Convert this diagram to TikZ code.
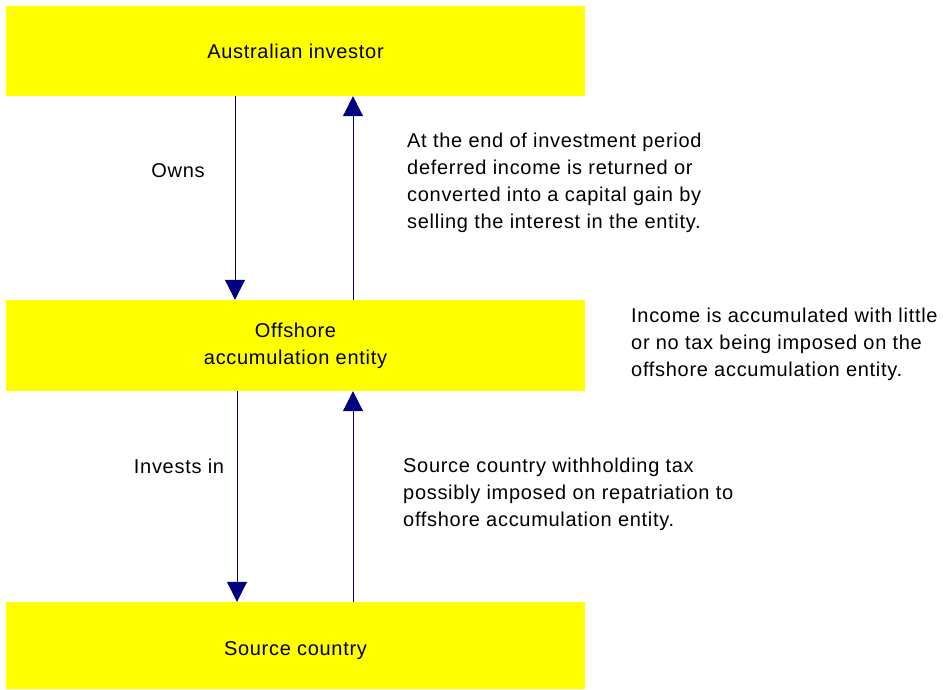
\documentclass[tikz,border=0pt]{standalone}
\usepackage{fontspec}
\setmainfont{Liberation Sans}[LetterSpace=3.5]
\usepackage{tikz}
\usetikzlibrary{arrows.meta, positioning}
\definecolor{yellow1}{rgb}{1,1,0}
\definecolor{navy1}{rgb}{0,0,0.5}

\begin{document}
\begin{tikzpicture}[x=1pt,y=-1pt,>={Triangle[width=20pt,length=20pt]},
                    font=\fontsize{20}{27}\selectfont]
  \tikzstyle{box}=[fill=yellow1,draw=none,text=black,minimum width=579pt,
                   inner sep=0pt,align=center]
  \tikzstyle{flow}=[->,draw=navy1,line width=1pt]
  \tikzstyle{note}=[align=left,inner sep=0pt,anchor=west]
  \useasboundingbox (0,0) rectangle (943,689);

  \node[box,minimum height=90pt]  (investor) at (295.5, 51)    {Australian investor};
  \node[box,minimum height=91pt]  (entity)   at (295.5, 345.5) {Offshore\\accumulation entity};
  \node[box,minimum height=87pt,text height=25pt]  (source)   at (295.5, 645.5) {Source country};

  \node                (owns)    at (178, 171) {Owns};
  \node                (invests) at (179, 466) {Invests in};
  \node[note]          (returned) at (407, 183) {At the end of investment period\\deferred income is returned or\\converted into a capital gain by\\selling the interest in the entity.};
  \node[note]          (accum)   at (631, 344) {Income is accumulated with little\\or no tax being imposed on the\\offshore accumulation entity.};
  \node[note]          (withhold) at (403, 494) {Source country withholding tax\\possibly imposed on repatriation to\\offshore accumulation entity.};

  \draw[flow] ([xshift=-60.5pt]investor.south) -- ([xshift=-60.5pt]entity.north);
  \draw[flow] ([xshift=57.5pt]entity.north) -- ([xshift=57.5pt]investor.south);
  \draw[flow] ([xshift=-58.5pt]entity.south) -- ([xshift=-58.5pt]source.north);
  \draw[flow] ([xshift=57.5pt]source.north) -- ([xshift=57.5pt]entity.south);
\end{tikzpicture}
\end{document}
